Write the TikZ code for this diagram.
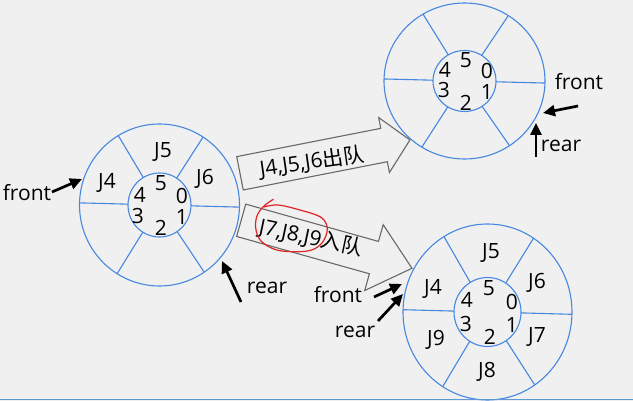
\documentclass[tikz,border=0pt]{standalone}
\usepackage{fontspec}
\setmainfont{Open Sans}
\newfontfamily\cjk{Noto Sans CJK SC}
\usetikzlibrary{arrows.meta}
\definecolor{ringblue}{RGB}{70,135,225}
\definecolor{bgc}{RGB}{240,240,240}
\definecolor{barblue}{RGB}{91,155,213}
\definecolor{boxgray}{RGB}{105,105,105}
\definecolor{penred}{RGB}{225,35,35}
\newcommand\myring[6]{%
  \draw[ring] (#1,#2) ellipse [x radius=#3, y radius=#4];
  \draw[ring] (#1,#2) ellipse [x radius=#5, y radius=#6];
  \foreach \a in {-1.5,57,121,178.5,238,304}{
    \draw[ring] ({#1+#5*cos(\a)},{#2-#6*sin(\a)}) -- ({#1+#3*cos(\a)},{#2-#4*sin(\a)});
  }%
}
\begin{document}
\begin{tikzpicture}[x=1pt,y=-1pt,
  ring/.style={draw=ringblue,line width=1.1pt},
  lbl/.style={font=\fontsize{21}{23}\selectfont, inner sep=0pt},
  ptr/.style={line width=2.7pt, -{Triangle[length=12pt,width=11pt]}},
  blk/.style={draw=boxgray, line width=1.1pt},
]
\fill[bgc] (0,0) rectangle (633,401);
\useasboundingbox (0,0) rectangle (633,401);

% rings
\myring{159.5}{205}{80}{81}{31.5}{32}
\myring{464.5}{81}{80.5}{78}{31.5}{30.5}
\myring{487.5}{312}{84.5}{88}{33.5}{34.5}

% left ring labels
\node[lbl] (a5) at (163,152) {J5};
\node[lbl] (a4) at (107,183) {J4};
\node[lbl] (a6) at (205,179) {J6};
\node[lbl] (an5) at (161,183) {5};
\node[lbl] (an4) at (140,195) {4};
\node[lbl] (an0) at (182,196) {0};
\node[lbl] (an3) at (138,216) {3};
\node[lbl] (an1) at (182,217) {1};
\node[lbl] (an2) at (161,228) {2};

% top-right ring labels
\node[lbl] (bn5) at (466,60) {5};
\node[lbl] (bn4) at (445,70) {4};
\node[lbl] (bn0) at (487,71) {0};
\node[lbl] (bn3) at (444,90) {3};
\node[lbl] (bn1) at (487,92) {1};
\node[lbl] (bn2) at (466,103) {2};

% bottom-right ring labels
\node[lbl] (c5) at (491,253) {J5};
\node[lbl] (c4) at (433,289) {J4};
\node[lbl] (c6) at (537,283) {J6};
\node[lbl] (c9) at (436,340) {J9};
\node[lbl] (c7) at (537,337) {J7};
\node[lbl] (c8) at (487,372) {J8};
\node[lbl] (cn5) at (489,288) {5};
\node[lbl] (cn4) at (467,300) {4};
\node[lbl] (cn0) at (512,302) {0};
\node[lbl] (cn3) at (466,324) {3};
\node[lbl] (cn1) at (512,325) {1};
\node[lbl] (cn2) at (490,337) {2};

% front / rear texts
\node[lbl] (afront) at (27,193) {front};
\node[lbl] (arear) at (267,288) {rear};
\node[lbl] (bfront) at (579,82) {front};
\node[lbl] (brear) at (561,146) {rear};
\node[lbl] (cfront) at (338,295) {front};
\node[lbl] (crear) at (355,332) {rear};

% pointer arrows
\coordinate (afT) at (52,192);  \coordinate (afH) at (82,179);
\coordinate (arT) at (241,302); \coordinate (arH) at (222,261);
\coordinate (bfT) at (578,106); \coordinate (bfH) at (543,113);
\coordinate (brT) at (536,157); \coordinate (brH) at (536,123);
\coordinate (cfT) at (374,297); \coordinate (cfH) at (402,284);
\coordinate (crT) at (378,321); \coordinate (crH) at (403,294);
\draw[ptr] (afT) -- (afH);
\draw[ptr] (arT) -- (arH);
\draw[ptr] (bfT) -- (bfH);
\draw[ptr] (brT) -- (brH);
\draw[ptr] (cfT) -- (cfH);
\draw[ptr] (crT) -- (crH);

% block arrows
\begin{scope}[shift={(240,173.3)}, rotate=11.1]
  \draw[blk] (0,-17) -- (146.8,-17) -- (146.8,-28) -- (173.2,0) -- (146.8,28) -- (146.8,17) -- (0,17) -- cycle;
\end{scope}
\begin{scope}[shift={(241.2,220.3)}, rotate=-15.7]
  \draw[blk] (0,-16.8) -- (137.9,-16.8) -- (137.9,-34.2) -- (177.4,0) -- (137.9,34.2) -- (137.9,16.8) -- (0,16.8) -- cycle;
\end{scope}
\node[lbl, rotate=8] (outq) at (312,162) {J4,J5,J6{\cjk 出队}};
\node[lbl, rotate=-12] (inq) at (311,238) {J7,J8,J9{\cjk 入队}};

% red hand-drawn loop
\draw[penred, line width=1.2pt, line cap=round] plot[smooth, tension=0.6] coordinates {
 (273.3,199.3) (263.3,206.7) (256.7,216.7) (256,230) (261.7,241.7) (276.7,250)
 (296.7,251.7) (311.7,250) (321.7,243.3) (326.7,233.3) (326.7,225) (320,216.7)
 (300,210) (278,205) (264,207)};

% bottom bar
\draw[barblue, line width=1.6pt] (0,399.6) -- (633,399.6);
\end{tikzpicture}
\end{document}
